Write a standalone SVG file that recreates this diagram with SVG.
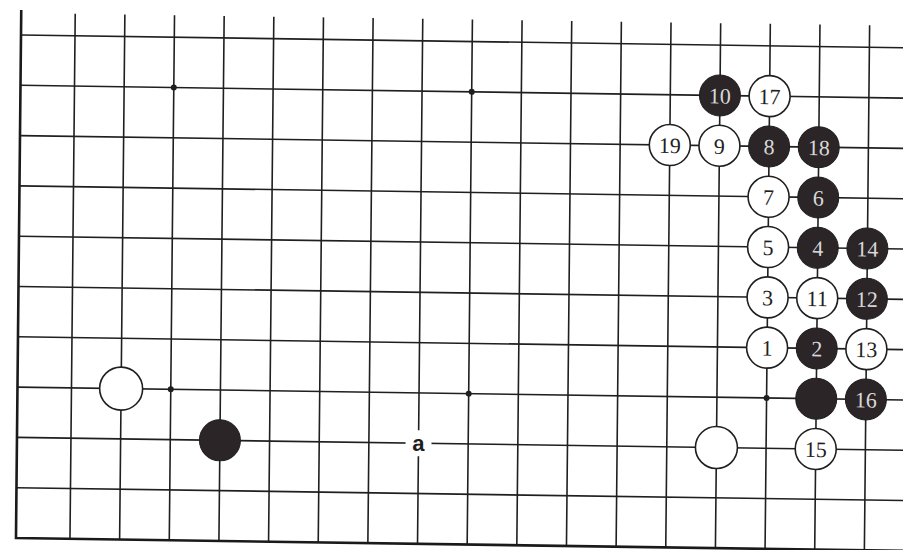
<svg xmlns="http://www.w3.org/2000/svg" width="903" height="550" viewBox="0 0 903 550">
<style>
.ln{stroke:#1f1f1f;stroke-width:1.6;fill:none}
.edge{stroke:#1a1a1a;stroke-width:2.6;fill:none}
.w{fill:#ffffff;stroke:#1f1f1f;stroke-width:1.6}
.b{fill:#2b2527;stroke:#1f1f1f;stroke-width:1}
.hoshi{fill:#1f1f1f}
.tw{font-family:"Liberation Serif",serif;font-size:22px;fill:#1f1f1f;text-anchor:middle}
.tb{font-family:"Liberation Serif",serif;font-size:22px;fill:#d8d8d8;text-anchor:middle}
.lbl{font-family:"Liberation Sans",sans-serif;font-size:22px;font-weight:bold;fill:#1f1f1f;text-anchor:middle}
</style>
<rect x="0" y="0" width="903" height="550" fill="#ffffff"/>
<g transform="matrix(1 0.0145 -0.01 1 21 35)">
<g id="grid">
<path class="ln" d="M0 0H900M0 50.3H900M0 100.6H900M0 150.9H900M0 201.2H900M0 251.5H900M0 301.8H900M0 352.1H900M0 402.4H900M0 452.7H900"/>
<path class="ln" d="M54 -22V503M103.65 -22V503M153.3 -22V503M202.95 -22V503M252.6 -22V503M302.25 -22V503M351.9 -22V503M401.55 -22V503M451.2 -22V503M500.85 -22V503M550.5 -22V503M600.15 -22V503M649.8 -22V503M699.45 -22V503M749.1 -22V503M798.75 -22V503M848.4 -22V503"/>
<path class="edge" d="M0 -25V503H900"/>
<circle class="hoshi" cx="153.3" cy="50.3" r="3"/>
<circle class="hoshi" cx="451.2" cy="50.3" r="3"/>
<circle class="hoshi" cx="153.3" cy="352.1" r="3"/>
<circle class="hoshi" cx="451.2" cy="352.1" r="3"/>
<circle class="hoshi" cx="749.1" cy="352.1" r="3"/>
</g>
<g id="connectors"></g>
<g id="s10"><circle class="b" cx="699.45" cy="50.3" r="20.5"/><text class="tb" x="699.45" y="58.3">10</text></g>
<g id="s17"><circle class="w" cx="749.1" cy="50.3" r="20.5"/><text class="tw" x="749.1" y="58.3">17</text></g>
<g id="s19"><circle class="w" cx="649.8" cy="100.6" r="20.5"/><text class="tw" x="649.8" y="108.6">19</text></g>
<g id="s9"><circle class="w" cx="699.45" cy="100.6" r="20.5"/><text class="tw" x="699.45" y="108.6">9</text></g>
<g id="s8"><circle class="b" cx="749.1" cy="100.6" r="20.5"/><text class="tb" x="749.1" y="108.6">8</text></g>
<g id="s18"><circle class="b" cx="798.75" cy="100.6" r="20.5"/><text class="tb" x="798.75" y="108.6">18</text></g>
<g id="s7"><circle class="w" cx="749.1" cy="150.9" r="20.5"/><text class="tw" x="749.1" y="158.9">7</text></g>
<g id="s6"><circle class="b" cx="798.75" cy="150.9" r="20.5"/><text class="tb" x="798.75" y="158.9">6</text></g>
<g id="s5"><circle class="w" cx="749.1" cy="201.2" r="20.5"/><text class="tw" x="749.1" y="209.2">5</text></g>
<g id="s4"><circle class="b" cx="798.75" cy="201.2" r="20.5"/><text class="tb" x="798.75" y="209.2">4</text></g>
<g id="s14"><circle class="b" cx="848.4" cy="201.2" r="20.5"/><text class="tb" x="848.4" y="209.2">14</text></g>
<g id="s3"><circle class="w" cx="749.1" cy="251.5" r="20.5"/><text class="tw" x="749.1" y="259.5">3</text></g>
<g id="s11"><circle class="w" cx="798.75" cy="251.5" r="20.5"/><text class="tw" x="798.75" y="259.5">11</text></g>
<g id="s12"><circle class="b" cx="848.4" cy="251.5" r="20.5"/><text class="tb" x="848.4" y="259.5">12</text></g>
<g id="s1"><circle class="w" cx="749.1" cy="301.8" r="20.5"/><text class="tw" x="749.1" y="309.8">1</text></g>
<g id="s2"><circle class="b" cx="798.75" cy="301.8" r="20.5"/><text class="tb" x="798.75" y="309.8">2</text></g>
<g id="s13"><circle class="w" cx="848.4" cy="301.8" r="20.5"/><text class="tw" x="848.4" y="309.8">13</text></g>
<g id="black-r7"><circle class="b" cx="798.75" cy="352.1" r="20.5"/></g>
<g id="s16"><circle class="b" cx="848.4" cy="352.1" r="20.5"/><text class="tb" x="848.4" y="360.1">16</text></g>
<g id="white-r8"><circle class="w" cx="699.45" cy="402.4" r="21"/></g>
<g id="s15"><circle class="w" cx="798.75" cy="402.4" r="20.5"/><text class="tw" x="798.75" y="410.4">15</text></g>
<g id="white-left"><circle class="w" cx="103.65" cy="352.1" r="21.5"/></g>
<g id="black-left"><circle class="b" cx="202.95" cy="402.4" r="20.5"/></g>
<g id="label-a"><circle cx="401.55" cy="402.4" r="13" fill="#ffffff"/><text class="lbl" x="401.55" y="410">a</text></g>
</g>
</svg>
